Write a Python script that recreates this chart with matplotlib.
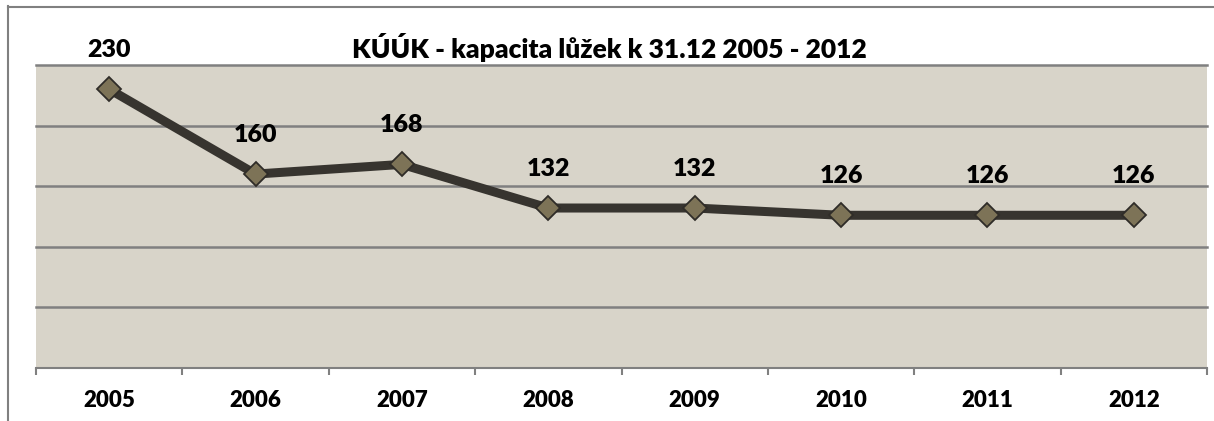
import matplotlib
matplotlib.use("Agg")
import matplotlib.pyplot as plt
from matplotlib.lines import Line2D

years = ["2005", "2006", "2007", "2008", "2009", "2010", "2011", "2012"]
beds = [230, 160, 168, 132, 132, 126, 126, 126]
title = "KÚÚK - kapacita lůžek k 31.12 2005 - 2012"
grid_values = [50, 100, 150, 200, 250]

W, H = 1214, 421
fig = plt.figure(figsize=(W / 100, H / 100), dpi=100)
fig.patch.set_facecolor("white")
plt.rcParams['font.family'] = ['Lato', 'DejaVu Sans']

ax = fig.add_axes([36 / W, (H - 368) / H, (1207 - 36) / W, (368 - 65) / H])
ax.set_facecolor("#d8d4c9")
ax.set_xlim(-0.5, len(years) - 0.5)
ax.set_ylim(0, 250)

for v in grid_values:
    ax.axhline(v, color="#808080", lw=1.8, zorder=1, clip_on=False)

x = list(range(len(years)))
ax.plot(x, beds, color="#37342f", lw=6.5, zorder=3, solid_capstyle="butt",
        marker="D", markersize=12.5, markerfacecolor="#7d7357",
        markeredgecolor="#2f2c28", markeredgewidth=1.3)

for xi, v in zip(x, beds):
    ax.annotate(str(v), (xi, v), xytext=(0, 28), textcoords="offset points",
                ha="center", va="center", fontsize=18, fontweight="heavy",
                color="black", zorder=5, annotation_clip=False)

for s in ["left", "right", "top"]:
    ax.spines[s].set_visible(False)
ax.spines["bottom"].set_color("#808080")
ax.spines["bottom"].set_linewidth(1.5)

ax.set_yticks([])
ax.set_xticks([i - 0.5 for i in range(len(years) + 1)])
ax.set_xticklabels([])
ax.tick_params(axis="x", which="major", length=5, width=1.5, color="#808080", direction="out")
ax.set_xticks(x, minor=True)
ax.set_xticklabels(years, minor=True, fontsize=16, fontweight="heavy")
ax.tick_params(axis="x", which="minor", length=0, pad=16)

fig.text(609 / W, 1 - 47 / H, title, ha="center", va="center",
         fontsize=19, fontweight="heavy", color="black")

# outer chart frame (partially visible)
fig.add_artist(Line2D([7.5 / W, 7.5 / W], [0, 1 - 6 / H], transform=fig.transFigure,
                      color="#808080", lw=1.5))
fig.add_artist(Line2D([7.5 / W, 1], [1 - 6.5 / H, 1 - 6.5 / H], transform=fig.transFigure,
                      color="#808080", lw=1.5))

fig.savefig("out.png", dpi=100, facecolor="white")
